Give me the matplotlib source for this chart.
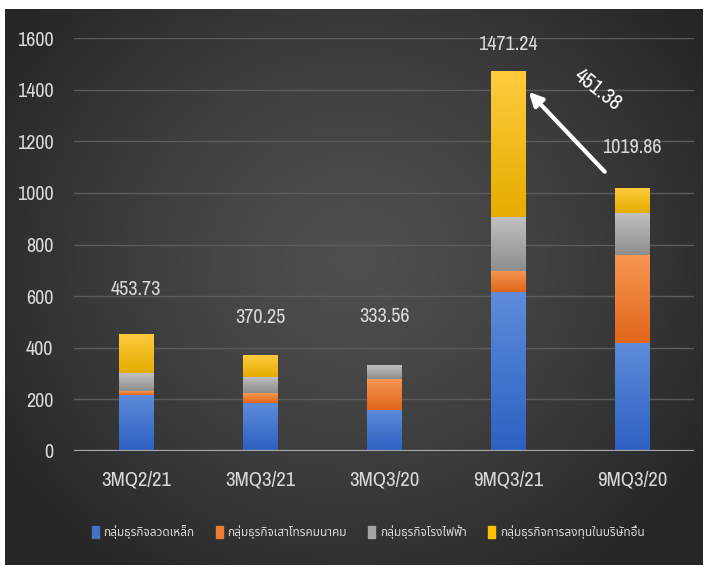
import numpy as np
import matplotlib
matplotlib.use("Agg")
import matplotlib.pyplot as plt
from matplotlib import font_manager, ft2font
from matplotlib.colors import LinearSegmentedColormap, to_rgb
from matplotlib.patches import Rectangle

# ---------------- data ----------------
categories = ["3MQ2/21", "3MQ3/21", "3MQ3/20", "9MQ3/21", "9MQ3/20"]
series_names = ["กลุ่มธุรกิจลวดเหล็ก", "กลุ่มธุรกิจเสาโทรคมนาคม",
                "กลุ่มธุรกิจโรงไฟฟ้า", "กลุ่มธุรกิจการลงทุนในบริษัทอื่น"]
steel_wire = [217, 187, 159, 615, 420]
telecom_pole = [15, 37, 120, 84, 340]
power_plant = [69, 64, 55, 209, 162]
other_invest = [152.73, 82.25, 0, 563.24, 97.86]
totals = [453.73, 370.25, 333.56, 1471.24, 1019.86]
yticks = [0, 200, 400, 600, 800, 1000, 1200, 1400, 1600]

series = [steel_wire, telecom_pole, power_plant, other_invest]
top_colors = ["#5e8cda", "#f79552", "#c0c0c0", "#ffcb3e"]
bot_colors = ["#2d60c2", "#e0671a", "#8e8e8e", "#e6ac00"]
legend_colors = ["#4472c4", "#ed7d31", "#a5a5a5", "#ffc000"]

# ---------------- fonts ----------------
def find_font(codepoint, prefer=()):
    found = []
    for f in font_manager.fontManager.ttflist:
        try:
            ft = ft2font.FT2Font(f.fname)
            if codepoint in ft.get_charmap():
                found.append(f.name)
        except Exception:
            pass
    for p in prefer:
        if p in found:
            return p
    return found[0] if found else "DejaVu Sans"

thai_font = find_font(0x0E01, prefer=("Noto Sans Thai", "Noto Sans Thai UI", "Loma",
                                      "Garuda", "Tlwg Typo", "Waree", "Norasi"))

def is_regular(f):
    w = f.weight
    try:
        w = int(w)
    except Exception:
        w = {"normal": 400, "regular": 400, "book": 400}.get(str(w).lower(), 700)
    return 350 <= w <= 450 and f.style == "normal"

# pick a condensed latin font if any exists
num_family, num_stretch, num_weight = "Lato", "normal", "normal"
cands = []
for f in font_manager.fontManager.ttflist:
    nm = f.name
    st = str(f.stretch)
    if not is_regular(f):
        continue
    if "Narrow" in nm or "Condensed" in nm:
        cands.append((0, nm, "normal"))
    elif st in ("condensed", "semi-condensed"):
        cands.append((1, nm, st))
if cands:
    cands.sort()
    _, num_family, num_stretch = cands[0]
    tick_fs, cat_fs, val_fs = 14.5, 15, 14.5
else:
    tick_fs, cat_fs, val_fs = 11.5, 11.5, 12

num_kw = dict(fontfamily=num_family, fontstretch=num_stretch, fontweight="normal")

txt_color = "#d9d9d9"

fig = plt.figure(figsize=(7.08, 5.68), dpi=100)
fig.patch.set_facecolor("white")

# dark radial background panel
W, H = 708, 568
px0, px1, py0, py1 = 5, 703, 9, 565
bg_ax = fig.add_axes([px0 / W, 1 - py1 / H, (px1 - px0) / W, (py1 - py0) / H], zorder=0)
bg_ax.set_axis_off()
xx, yy = np.meshgrid(np.linspace(-1, 1, 400), np.linspace(-1, 1, 320))
r = np.sqrt((xx / 1.0) ** 2 + ((yy + 0.1) / 1.15) ** 2)
r = np.clip(r, 0, 1.2) / 1.2
c_center, c_edge = 0.31, 0.15
val = c_center - (c_center - c_edge) * r ** 1.3
bg_ax.imshow(np.dstack([val, val, val]), aspect="auto", extent=[0, 1, 0, 1])
bg_ax.set_xlim(0, 1)
bg_ax.set_ylim(0, 1)

# main axes
ax = fig.add_axes([74 / W, 1 - 451 / H, (694 - 74) / W, (451 - 38) / H], zorder=1)
ax.patch.set_alpha(0)
x = np.arange(len(categories))
bw = 0.275

bottom = np.zeros(len(categories))
for si, vals in enumerate(series):
    vals = np.array(vals, dtype=float)
    bars = ax.bar(x, vals, bw, bottom=bottom, color=legend_colors[si],
                  label=series_names[si], zorder=3, linewidth=0)
    cmap = LinearSegmentedColormap.from_list(
        "g%d" % si, [to_rgb(bot_colors[si]), to_rgb(top_colors[si])])
    grad = np.linspace(1, 0, 64).reshape(-1, 1)
    for b in bars:
        if b.get_height() <= 0:
            continue
        x0, y0 = b.get_x(), b.get_y()
        im = ax.imshow(grad, cmap=cmap, aspect="auto", zorder=3.5,
                       extent=[x0, x0 + b.get_width(), y0, y0 + b.get_height()],
                       vmin=0, vmax=1)
        im.set_clip_path(b)
    bottom += vals

ax.set_xlim(-0.5, len(categories) - 0.5)
ax.set_ylim(0, 1600)

for s in ax.spines.values():
    s.set_visible(False)
ax.set_yticks(yticks)
ax.set_yticklabels([str(t) for t in yticks], fontsize=tick_fs, color=txt_color, **num_kw)
ax.set_xticks(x)
ax.set_xticklabels(categories, fontsize=cat_fs, color=txt_color, **num_kw)
ax.tick_params(axis="y", length=0, pad=15)
ax.tick_params(axis="x", length=0, pad=14)
for t in yticks[1:]:
    ax.axhline(t, color="#5c5c5c", lw=1.0, zorder=1)
ax.axhline(0, color="#a8a8a8", lw=1.6, zorder=4)

# total labels
label_offsets = [32, 27, 35, 19, 29]
for xi, tot, off in zip(x, totals, label_offsets):
    ax.annotate(f"{tot:.2f}", (xi, tot), xytext=(0, off), textcoords="offset points",
                ha="center", va="center", fontsize=val_fs, color=txt_color,
                annotation_clip=False, **num_kw)

# arrow and difference
ax.annotate("", xy=(3 + bw / 2 + 0.03, totals[3] - 80),
            xytext=(3.78, totals[4] + 62),
            arrowprops=dict(arrowstyle="-|>,head_length=0.8,head_width=0.4",
                            color="white", lw=3.0, shrinkA=0, shrinkB=0),
            zorder=6)
ax.text(3.72, 1400, f"{totals[3] - totals[4]:.2f}", rotation=-38,
        rotation_mode="anchor", ha="center", va="center",
        fontsize=val_fs + 1, color="white", zorder=6, **num_kw)

# legend
handles = [Rectangle((0, 0), 1, 1, color=c) for c in legend_colors]
leg = fig.legend(handles, series_names, loc="center", bbox_to_anchor=(368 / W, 1 - 532 / H),
                 ncol=4, frameon=False, handlelength=0.6, handleheight=1.3,
                 handletextpad=0.4, columnspacing=1.8,
                 prop={"family": [thai_font, "DejaVu Sans"], "size": 8.5})
for t in leg.get_texts():
    t.set_color(txt_color)

fig.savefig("out.png", dpi=100, facecolor=fig.get_facecolor())
